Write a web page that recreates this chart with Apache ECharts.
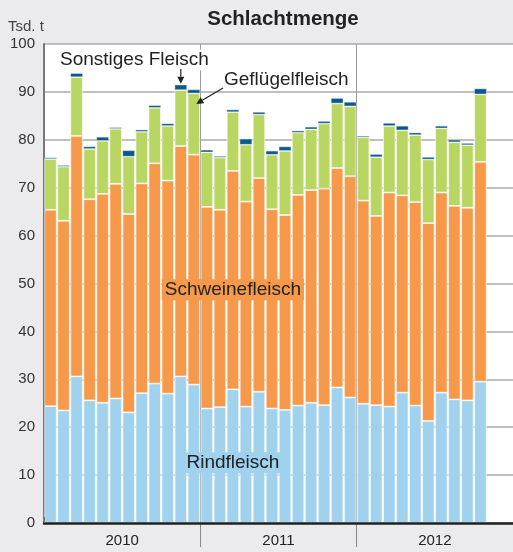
<!DOCTYPE html>
<html>
<head>
<meta charset="utf-8">
<script src="https://cdn.jsdelivr.net/npm/echarts@6/dist/echarts.min.js"></script>
<style>
  html, body { margin: 0; padding: 0; background: #ebebed; }
  #chart { width: 513px; height: 552px; }
</style>
</head>
<body>
<div id="chart"></div>
<script>
// Monthly slaughter volume (thousand tonnes), Jan 2010 – Oct 2012
const years = ['2010', '2011', '2012'];
const monthNames = ['Jan', 'Feb', 'Mär', 'Apr', 'Mai', 'Jun', 'Jul', 'Aug', 'Sep', 'Okt', 'Nov', 'Dez'];
const months = [];
years.forEach(y => monthNames.forEach(m => months.push(m + ' ' + y)));

const rindfleisch = [
  24.4, 23.5, 30.6, 25.6, 25.1, 26.0, 23.1, 27.1, 29.1, 27.0, 30.6, 28.9,
  23.9, 24.2, 27.9, 24.3, 27.4, 23.9, 23.6, 24.5, 25.1, 24.6, 28.3, 26.2,
  24.9, 24.6, 24.3, 27.2, 24.5, 21.3, 27.2, 25.8, 25.6, 29.5, null, null
];
const schweinefleisch = [
  41.0, 39.6, 50.2, 42.0, 43.6, 44.8, 41.4, 43.8, 46.0, 44.5, 48.1, 48.0,
  42.1, 41.2, 45.6, 42.8, 44.6, 41.6, 40.7, 44.0, 44.4, 45.2, 45.8, 46.2,
  42.4, 39.5, 44.7, 41.2, 42.5, 41.3, 41.8, 40.4, 40.2, 45.9, null, null
];
const gefluegelfleisch = [
  10.6, 11.3, 12.3, 10.5, 11.1, 11.5, 12.0, 10.8, 11.6, 11.4, 11.7, 12.8,
  11.4, 10.9, 12.3, 11.9, 13.3, 11.4, 13.4, 13.0, 12.7, 13.6, 13.5, 14.6,
  13.2, 12.3, 13.9, 13.6, 14.0, 13.3, 13.4, 13.3, 13.1, 14.1, null, null
];
const sonstiges = [
  0.3, 0.3, 0.8, 0.5, 0.8, 0.3, 1.3, 0.4, 0.5, 0.5, 1.1, 0.8,
  0.5, 0.3, 0.5, 1.2, 0.5, 0.8, 0.9, 0.4, 0.5, 0.5, 1.1, 0.9,
  0.3, 0.6, 0.6, 0.9, 0.5, 0.5, 0.5, 0.5, 0.4, 1.2, null, null
];
const yTicks = { min: 0, max: 100, step: 10 };

const COLORS = {
  rind: '#a0d1ed',
  schwein: '#f6994a',
  gefluegel: '#b9d562',
  sonst: '#0c5a8b'
};
const FONT = '"Liberation Sans", Arial, Helvetica, sans-serif';

const chart = echarts.init(document.getElementById('chart'), null, { renderer: 'canvas' });

function barSeries(name, data, color, border) {
  return {
    name: name,
    type: 'bar',
    stack: 'menge',
    data: data,
    barCategoryGap: '5%',
    itemStyle: { color: color, borderColor: 'rgba(255,255,255,0.75)', borderWidth: border },
    emphasis: { disabled: true }
  };
}

chart.setOption({
  backgroundColor: '#ebebed',
  animation: false,
  title: {
    text: 'Schlachtmenge',
    left: 278,
    top: 4,
    textAlign: 'center',
    textStyle: { fontFamily: FONT, fontSize: 20.5, fontWeight: 'bold', color: '#222' }
  },
  grid: {
    left: 44, right: 0, top: 44, bottom: 29,
    show: true, backgroundColor: '#ffffff', borderWidth: 0
  },
  xAxis: [
    {
      type: 'category',
      data: months,
      boundaryGap: true,
      axisLine: { show: true, lineStyle: { color: '#222', width: 2.5 } },
      axisTick: {
        show: true, inside: true, length: 6,
        interval: (i) => i === 35,
        lineStyle: { color: '#777', width: 1 }
      },
      axisLabel: { show: false },
      splitLine: { show: false },
      z: 5
    },
    {
      type: 'category',
      data: years,
      position: 'bottom',
      boundaryGap: true,
      axisLine: { show: false },
      axisTick: {
        show: true, length: 24,
        interval: (i) => i === 1 || i === 2,
        lineStyle: { color: '#888', width: 1 }
      },
      axisLabel: { show: true, fontFamily: FONT, fontSize: 15, color: '#222', margin: 10 },
      splitLine: {
        show: true,
        interval: (i) => i === 1 || i === 2,
        lineStyle: { color: '#999', width: 1 }
      }
    }
  ],
  yAxis: {
    type: 'value',
    min: yTicks.min,
    max: yTicks.max,
    interval: yTicks.step,
    axisLine: { show: true, lineStyle: { color: '#777', width: 2 } },
    axisTick: { show: false },
    axisLabel: { fontFamily: FONT, fontSize: 15, color: '#333', margin: 9 },
    splitLine: { show: true, lineStyle: { color: '#aaaaaa', width: 1.5 } }
  },
  series: [
    barSeries('Rindfleisch', rindfleisch, COLORS.rind, 0.8),
    barSeries('Schweinefleisch', schweinefleisch, COLORS.schwein, 0.8),
    barSeries('Geflügelfleisch', gefluegelfleisch, COLORS.gefluegel, 0.8),
    barSeries('Sonstiges Fleisch', sonstiges, COLORS.sonst, 0.5)
  ]
});

// Annotation labels and pointer arrows, anchored to the data positions
function px(catIndex, value) {
  return chart.convertToPixel({ xAxisIndex: 0, yAxisIndex: 0 }, [catIndex, value]);
}
function total(i) {
  return rindfleisch[i] + schweinefleisch[i] + gefluegelfleisch[i] + sonstiges[i];
}
function arrow(x1, y1, x2, y2) {
  const ang = Math.atan2(y2 - y1, x2 - x1);
  const hl = 7, hw = 3.5;
  const bx = x2 - hl * Math.cos(ang), by = y2 - hl * Math.sin(ang);
  const nx = -Math.sin(ang) * hw, ny = Math.cos(ang) * hw;
  return [
    { type: 'line', shape: { x1: x1, y1: y1, x2: bx, y2: by },
      style: { stroke: '#222', lineWidth: 1.2 }, z: 100 },
    { type: 'polygon', shape: { points: [[x2, y2], [bx + nx, by + ny], [bx - nx, by - ny]] },
      style: { fill: '#222' }, z: 100 }
  ];
}
function label(text, x, y, bg, align) {
  return {
    type: 'text', x: x, y: y, z: 100,
    style: {
      text: text, fill: '#222', font: '19px ' + FONT,
      align: align || 'left', verticalAlign: 'middle',
      backgroundColor: bg, padding: [1, 3]
    }
  };
}

const ySonst = px(10, total(10))[1];
const xSonst = px(10, 0)[0];
const geflTip = px(11, 87.5);
const slot = px(1, 0)[0] - px(0, 0)[0];
const schweinPos = px(14, 48.7);
const rindPos = px(14.2, 12.6);

chart.setOption({
  graphic: [
    label('Sonstiges Fleisch', 57, 60, '#ffffff'),
    ...arrow(xSonst, 69, xSonst, ySonst - 1),
    label('Geflügelfleisch', 221, 80, '#ffffff'),
    ...arrow(223, 88, geflTip[0] + slot * 0.5 - 4, geflTip[1]),
    label('Schweinefleisch', schweinPos[0], schweinPos[1], COLORS.schwein, 'center'),
    label('Rindfleisch', rindPos[0], rindPos[1], COLORS.rind, 'center'),
    {
      type: 'text', x: 8, y: 27, z: 100,
      style: { text: 'Tsd. t', fill: '#444', font: '15px ' + FONT, verticalAlign: 'middle' }
    }
  ]
});
</script>
</body>
</html>
